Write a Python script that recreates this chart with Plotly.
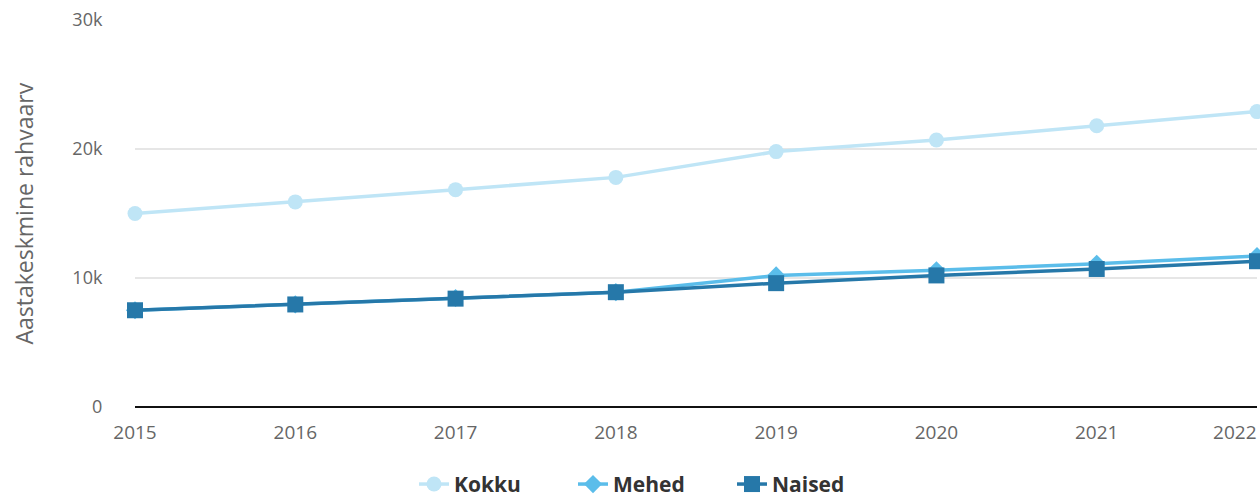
import plotly.graph_objects as go

years = [2015, 2016, 2017, 2018, 2019, 2020, 2021, 2022]
kokku = [15000, 15900, 16850, 17800, 19800, 20700, 21800, 22900]
mehed = [7500, 7950, 8450, 8900, 10200, 10600, 11100, 11700]
naised = [7500, 7950, 8400, 8900, 9600, 10200, 10700, 11300]
y_ticks = [0, 10000, 20000, 30000]
y_labels = ["0", "10k", "20k", "30k"]
x_labels = [str(y) for y in years]
x_labels[-1] = x_labels[-1] + "\u00a0" * 9  # nudge last label inside the edge
y_title = "Aastakeskmine rahvaarv"

series = [
    ("Kokku", kokku, "#bfe5f6", "circle", 15),
    ("Mehed", mehed, "#5bbdea", "diamond", 14),
    ("Naised", naised, "#2678a9", "square", 16),
]

fig = go.Figure()
for name, vals, color, sym, size in series:
    fig.add_trace(go.Scatter(
        x=years, y=vals, name=name, mode="lines+markers",
        line=dict(color=color, width=3.5),
        marker=dict(symbol=sym, size=size, color=color),
        cliponaxis=False,
    ))

fig.add_annotation(
    text=y_title, textangle=-90, showarrow=False,
    xref="paper", yref="paper", x=(23 - 135) / 1122, y=0.5,
    xanchor="center", yanchor="middle",
    font=dict(family="Open Sans", size=23, color="#666666"),
)

fig.update_layout(
    width=1260, height=495,
    margin=dict(l=135, r=3, t=20, b=88, autoexpand=False),
    plot_bgcolor="white", paper_bgcolor="white",
    font=dict(family="Open Sans", size=18, color="#666666"),
    showlegend=True,
    legend=dict(orientation="h", xref="container", x=414 / 1260, xanchor="left",
                y=-0.2, yanchor="middle",
                font=dict(size=21, color="#333333", weight="bold"),
                entrywidth=114, entrywidthmode="pixels",
                itemwidth=30, tracegroupgap=0),
    xaxis=dict(type="linear", range=[2015, 2022], tickvals=years,
               ticktext=x_labels, automargin=False, ticklabeloverflow="allow",
               showgrid=False, zeroline=False, showline=False,
               ticks="outside", ticklen=8, tickcolor="rgba(0,0,0,0)",
               tickfont=dict(size=19, color="#666666")),
    yaxis=dict(type="linear", range=[0, 30000], tickvals=y_ticks, ticktext=y_labels,
               automargin=False,
               showgrid=True, gridcolor="#e6e6e6", gridwidth=1.5,
               zeroline=True, zerolinecolor="#111111", zerolinewidth=2,
               ticks="outside", ticklen=28, tickcolor="rgba(0,0,0,0)",
               tickfont=dict(size=18, color="#666666")),
)

fig.write_html("out.html", config={"displayModeBar": False},
               post_script="document.body.style.margin='0';")
